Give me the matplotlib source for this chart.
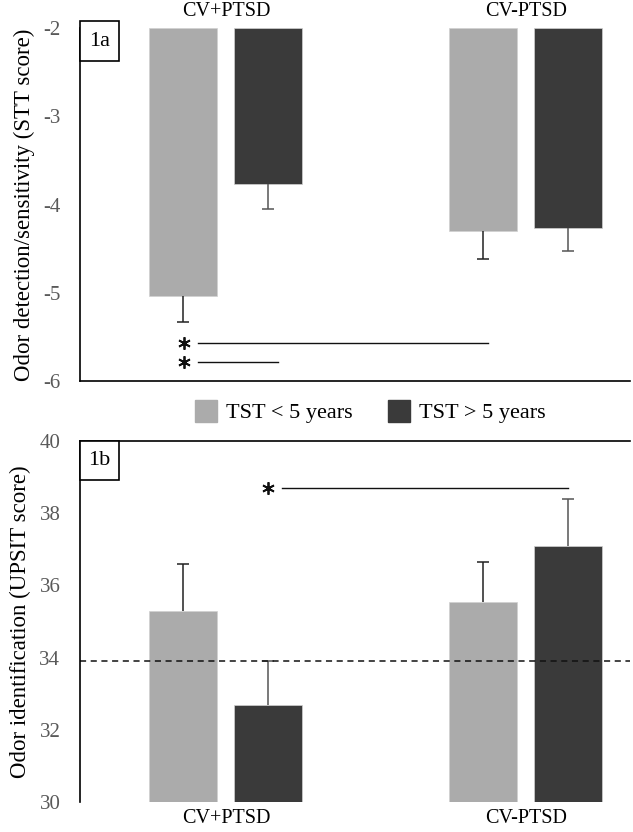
import numpy as np
import matplotlib.pyplot as plt
from matplotlib.patches import Patch, Rectangle

groups = ["CV+PTSD", "CV-PTSD"]
series = ["TST < 5 years", "TST > 5 years"]
colors = ["#ababab", "#3a3a3a"]

# 1a: STT score (bars hang from -2)
stt_mean = [[-5.03, -4.30], [-3.77, -4.27]]
stt_err = [[0.30, 0.32], [0.28, 0.26]]
stt_sig = [(-0.094, 0.873, -5.57), (-0.094, 0.173, -5.78)]

# 1b: UPSIT score
upsit_mean = [[35.3, 35.55], [32.7, 37.1]]
upsit_err = [[1.3, 1.1], [1.2, 1.3]]
upsit_cutoff = 33.9
upsit_sig = [(0.186, 1.14, 38.7)]

plt.rcParams["font.family"] = ["Liberation Serif", "DejaVu Serif"]
plt.rcParams["axes.unicode_minus"] = False

fig = plt.figure(figsize=(6.33, 8.32), dpi=100)
ax1 = fig.add_axes([0.126, 0.542, 0.869, 0.424])
ax2 = fig.add_axes([0.126, 0.036, 0.869, 0.434])

x = np.arange(len(groups))
w, off = 0.227, 0.142
tick_c = "#595959"


def draw_bars(ax, means, errs, base, down):
    for i in range(2):
        m = np.array(means[i])
        ec = "#222222" if i == 0 else "#555555"
        xs = x + (2 * i - 1) * off
        ax.bar(xs, m - base, bottom=base, width=w,
               color=colors[i], edgecolor="#d0d0d0", lw=0.5)
        zeros = [0] * len(m)
        yerr = [errs[i], zeros] if down else [zeros, errs[i]]
        _, caps, _ = ax.errorbar(xs, m, yerr=yerr, fmt="none", ecolor=ec,
                                 elinewidth=1.1, capsize=4, capthick=1.1)
        # keep only the cap at the far end of the error bar
        caps[1 if down else 0].set_visible(False)


def draw_sig(ax, sigs):
    for x0, x1, yy in sigs:
        ax.plot([x0, x1], [yy, yy], color="#111111", lw=1)
        ax.plot([x0 - 0.045], [yy], marker=(6, 2, 0), ms=9, mew=1.3,
                color="#111111", ls="none")


def panel_box(ax, label, y0, h):
    ax.add_patch(Rectangle((0, y0), 0.071, h, transform=ax.transAxes,
                           fc="white", ec="black", lw=1.2, clip_on=False, zorder=5))
    ax.text(0.0355, y0 + h / 2, label, transform=ax.transAxes, ha="center",
            va="center", fontsize=16, zorder=6)


def style(ax, hide):
    for s in hide:
        ax.spines[s].set_visible(False)
    for s in ax.spines.values():
        s.set_linewidth(1.2)
    ax.set_xlim(-0.487, 1.347)
    ax.set_xticks(x)
    ax.set_xticklabels(groups, fontsize=14.5)
    ax.tick_params(axis="x", length=0, pad=5)
    ax.tick_params(axis="y", length=0, labelsize=15, labelcolor=tick_c, pad=14)


# ---- 1a ----
draw_bars(ax1, stt_mean, stt_err, -2, True)
ax1.set_ylim(-6, -2)
ax1.set_yticks([-6, -5, -4, -3, -2])
ax1.xaxis.tick_top()
style(ax1, ["top", "right"])
ax1.set_ylabel("Odor detection/sensitivity (STT score)", fontsize=16.5, labelpad=6)
draw_sig(ax1, stt_sig)
panel_box(ax1, "1a", 0.907, 0.113)

# ---- 1b ----
draw_bars(ax2, upsit_mean, upsit_err, 30, False)
ax2.axhline(upsit_cutoff, color="#111111", lw=1.1, ls=(0, (4, 3)))
ax2.set_ylim(30, 40)
ax2.set_yticks([30, 32, 34, 36, 38, 40])
style(ax2, ["bottom", "right"])
ax2.set_ylabel("Odor identification (UPSIT score)", fontsize=16.5, labelpad=6)
draw_sig(ax2, upsit_sig)
panel_box(ax2, "1b", 0.892, 0.108)

handles = [Patch(color=c) for c in colors]
fig.legend(handles, series, loc="center", bbox_to_anchor=(0.585, 0.505), ncol=2,
           frameon=False, fontsize=16, handlelength=1.0, handleheight=1.1,
           columnspacing=1.6, handletextpad=0.4)

fig.savefig("out.png", dpi=100)
